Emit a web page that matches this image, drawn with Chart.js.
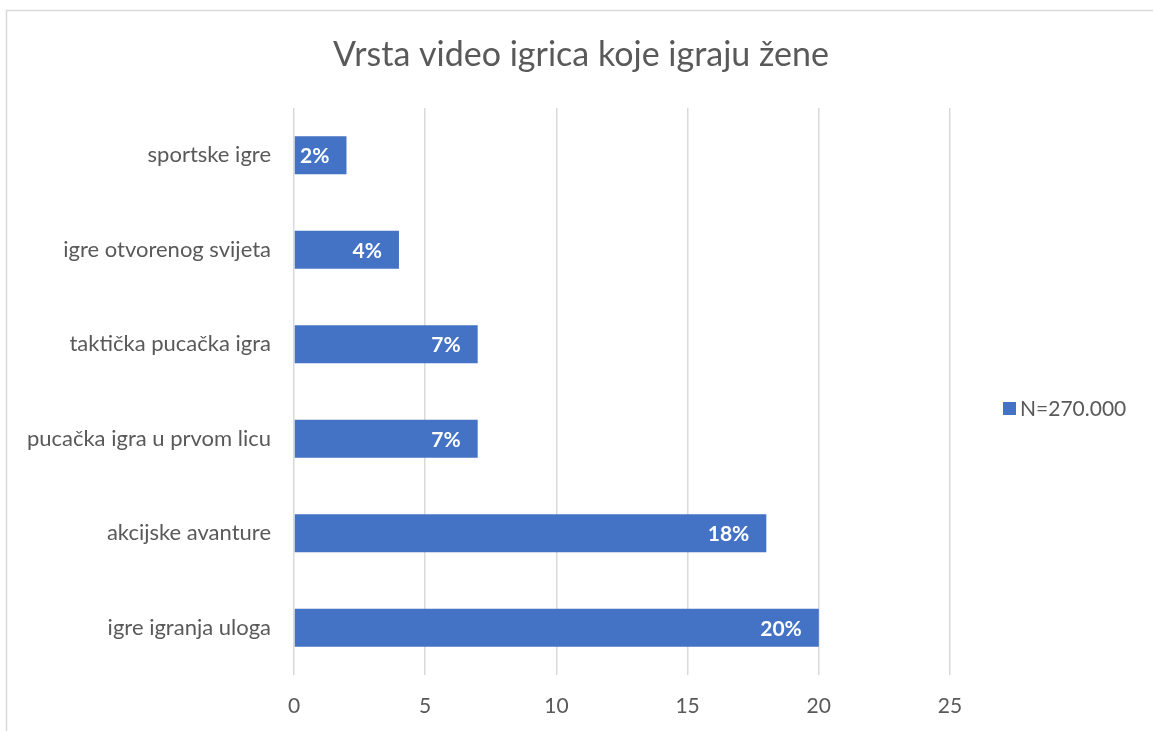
<!DOCTYPE html>
<html>
<head>
<meta charset="utf-8">
<script src="https://cdn.jsdelivr.net/npm/chart.js@4"></script>
<style>
  html, body { margin: 0; padding: 0; background: #fff; }
  #wrap { width: 1153px; height: 731px; }
</style>
</head>
<body>
<div id="wrap"><canvas id="chart" width="1153" height="731"></canvas></div>
<script>
var categories = ['sportske igre', 'igre otvorenog svijeta', 'taktička pucačka igra',
  'pucačka igra u prvom licu', 'akcijske avanture', 'igre igranja uloga'];
var values = [2, 4, 7, 7, 18, 20];
var seriesName = 'N=270.000';
var chartTitle = 'Vrsta video igrica koje igraju žene';
var xTicks = [0, 5, 10, 15, 20, 25];

var FONT = 'Lato, "Open Sans", sans-serif';
var GREY = '#595959';
var BLUE = '#4472c4';

// frame, title, bar labels and the legend on the right
var extras = {
  id: 'extras',
  beforeDraw: function(chart) {
    var ctx = chart.ctx;
    ctx.save();
    ctx.strokeStyle = '#d9d9d9';
    ctx.lineWidth = 1.5;
    ctx.strokeRect(6.5, 10.5, 1300, 900);
    ctx.font = '34px ' + FONT;
    ctx.fillStyle = GREY;
    ctx.textAlign = 'center';
    ctx.textBaseline = 'middle';
    ctx.fillText(chartTitle, 581, 55);
    ctx.restore();
  },
  afterDatasetsDraw: function(chart) {
    var ctx = chart.ctx;
    var meta = chart.getDatasetMeta(0);
    ctx.save();
    ctx.font = 'bold 21px ' + FONT;
    ctx.fillStyle = '#ffffff';
    ctx.textAlign = 'right';
    ctx.textBaseline = 'middle';
    meta.data.forEach(function(bar, i) {
      ctx.fillText(values[i] + '%', bar.x - 17, bar.y + 1);
    });
    // legend
    var ds = chart.data.datasets[0];
    var ly = 408;
    ctx.fillStyle = ds.backgroundColor;
    ctx.fillRect(1003, ly - 6, 13, 13);
    ctx.font = '21px ' + FONT;
    ctx.fillStyle = GREY;
    ctx.textAlign = 'left';
    ctx.fillText(ds.label, 1020, ly + 1);
    ctx.restore();
  }
};

new Chart(document.getElementById('chart'), {
  type: 'bar',
  data: {
    labels: categories,
    datasets: [{
      label: seriesName,
      data: values,
      backgroundColor: BLUE,
      categoryPercentage: 1,
      barPercentage: 0.4
    }]
  },
  options: {
    indexAxis: 'y',
    responsive: false,
    animation: false,
    layout: { padding: { left: 0, right: 203, top: 108, bottom: 0 } },
    plugins: {
      legend: { display: false },
      tooltip: { enabled: false },
      title: { display: false }
    },
    scales: {
      x: {
        min: 0,
        max: 25,
        afterBuildTicks: function(axis) {
          axis.ticks = xTicks.map(function(v) { return { value: v }; });
        },
        afterFit: function(axis) { axis.height = 56; },
        grid: { color: '#d9d9d9', lineWidth: 1.5, drawTicks: false },
        border: { display: false },
        ticks: { color: GREY, padding: 19, font: { family: FONT, size: 21 } }
      },
      y: {
        afterFit: function(axis) { axis.width = 294; },
        grid: { display: false, drawTicks: false },
        border: { display: false },
        ticks: { color: GREY, padding: 23, font: { family: FONT, size: 22 } }
      }
    }
  },
  plugins: [extras]
});
</script>
</body>
</html>
